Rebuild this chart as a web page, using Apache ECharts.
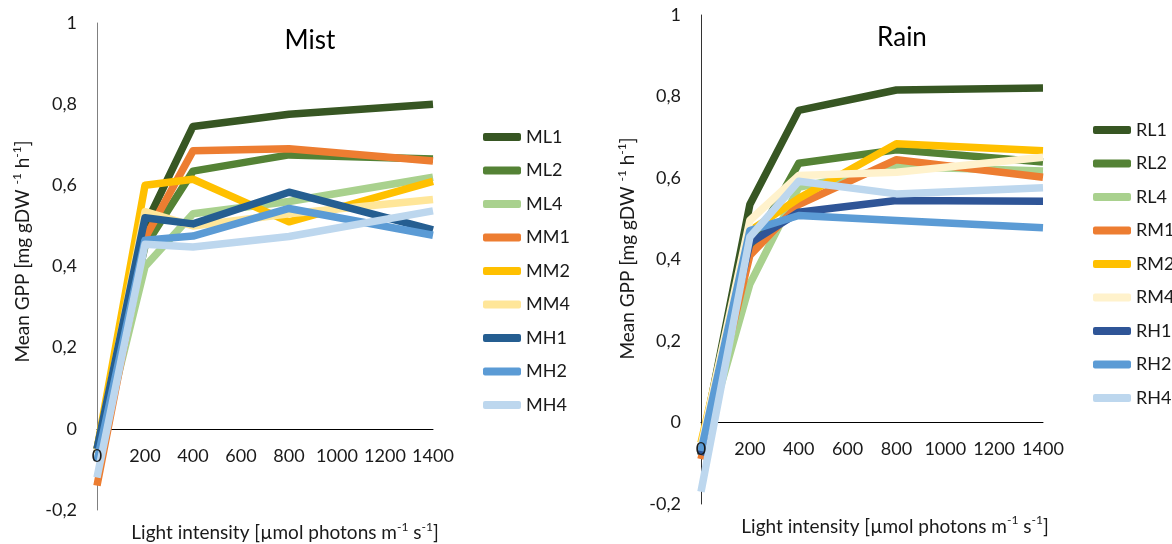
<!DOCTYPE html>
<html>
<head>
<meta charset="utf-8">
<script src="https://cdn.jsdelivr.net/npm/echarts@6/dist/echarts.min.js"></script>
<style>
  html, body { margin: 0; background: #fff; }
  #chart { width: 1172px; height: 544px; }
</style>
</head>
<body>
<div id="chart"></div>
<script>
  // light levels (µmol photons) where GPP was measured
  const lightLevels = [0, 200, 400, 800, 1400];

  const mistNames = ['ML1', 'ML2', 'ML4', 'MM1', 'MM2', 'MM4', 'MH1', 'MH2', 'MH4'];
  const ML1 = [-0.05, 0.50, 0.745, 0.775, 0.80];
  const ML2 = [-0.06, 0.45, 0.635, 0.675, 0.665];
  const ML4 = [-0.08, 0.40, 0.53, 0.56, 0.62];
  const MM1 = [-0.14, 0.47, 0.685, 0.69, 0.66];
  const MM2 = [-0.05, 0.60, 0.615, 0.51, 0.61];
  const MM4 = [-0.06, 0.535, 0.50, 0.53, 0.565];
  const MH1 = [-0.05, 0.52, 0.505, 0.583, 0.49];
  const MH2 = [-0.08, 0.465, 0.475, 0.543, 0.477];
  const MH4 = [-0.12, 0.455, 0.448, 0.474, 0.537];

  const rainNames = ['RL1', 'RL2', 'RL4', 'RM1', 'RM2', 'RM4', 'RH1', 'RH2', 'RH4'];
  const RL1 = [-0.07, 0.535, 0.766, 0.816, 0.821];
  const RL2 = [-0.08, 0.42, 0.636, 0.669, 0.639];
  const RL4 = [-0.08, 0.34, 0.577, 0.628, 0.617];
  const RM1 = [-0.09, 0.41, 0.535, 0.645, 0.602];
  const RM2 = [-0.05, 0.47, 0.55, 0.684, 0.667];
  const RM4 = [-0.06, 0.496, 0.606, 0.614, 0.651];
  const RH1 = [-0.08, 0.44, 0.516, 0.545, 0.543];
  const RH2 = [-0.07, 0.471, 0.508, 0.496, 0.478];
  const RH4 = [-0.17, 0.455, 0.592, 0.561, 0.576];

  const mistColors = ['#375623', '#548235', '#A9D18E', '#ED7D31', '#FFC000', '#FFE699', '#255E91', '#5B9BD5', '#BDD7EE'];
  const rainColors = ['#375623', '#548235', '#A9D18E', '#ED7D31', '#FFC000', '#FFF2CC', '#2F5597', '#5B9BD5', '#BDD7EE'];

  const font = 'Lato, "Open Sans", sans-serif';
  const txt = '#1a1a1a';

  function makeSeries(names, values, colors, idx) {
    return names.map((name, i) => ({
      name: name,
      type: 'line',
      xAxisIndex: idx,
      yAxisIndex: idx,
      symbol: 'none',
      data: lightLevels.map((x, j) => [x, values[i][j]]),
      lineStyle: { width: 7.5, color: colors[i], join: 'round' },
      itemStyle: { color: colors[i] },
      z: 2
    }));
  }

  const rich = {
    a: { fontSize: 19, fontFamily: font, color: txt },
    s: { fontSize: 12, fontFamily: font, color: txt, verticalAlign: 'top', lineHeight: 24 }
  };

  // plot axis: only its line, sitting on y = 0
  function zeroAxis(grid) {
    return {
      type: 'value', gridIndex: grid, min: 0, max: 1400, interval: 200,
      axisLine: { onZero: true, lineStyle: { color: '#000', width: 1 } },
      axisTick: { show: false },
      axisLabel: { show: false },
      splitLine: { show: false }
    };
  }

  // labels + title live on a second grid whose bottom is the zero line
  function labelAxis(grid, shift) {
    return {
      type: 'value', gridIndex: grid, min: 0, max: 1400, interval: 200,
      z: 3,
      axisLine: { show: false, onZero: false },
      axisTick: { show: false },
      splitLine: { show: false },
      axisLabel: { fontSize: 18, fontFamily: font, color: txt, margin: 18, formatter: v => String(v) },
      name: '{a|Light intensity [µmol photons m}{s|-1}{a| s}{s|-1}{a|]}',
      nameLocation: 'middle',
      nameGap: 92,
      nameTextStyle: { rich: rich, padding: [0, 0, 0, shift] }
    };
  }

  function yAxis(grid, gap, shift, lineColor) {
    return {
      type: 'value', gridIndex: grid, min: -0.2, max: 1, interval: 0.2,
      axisLine: { show: true, onZero: false, lineStyle: { color: lineColor, width: 1 } },
      axisTick: { show: false },
      splitLine: { show: false },
      axisLabel: {
        fontSize: 18, fontFamily: font, color: txt, margin: 20,
        formatter: v => String(Math.round(v * 10) / 10).replace('.', ',')
      },
      name: '{a|Mean GPP [mg gDW }{s|-1}{a| h}{s|-1}{a|]}',
      nameLocation: 'middle',
      nameGap: gap,
      nameTextStyle: { rich: rich, padding: [0, 0, 0, shift] }
    };
  }

  function hiddenY(grid) {
    return { type: 'value', gridIndex: grid, min: 0, max: 1, show: false };
  }

  function legend(names, left, top) {
    return {
      data: names,
      orient: 'vertical',
      left: left, top: top,
      icon: 'roundRect',
      itemWidth: 38, itemHeight: 8,
      itemGap: 15.5,
      textStyle: { fontSize: 18, fontFamily: font, color: txt, lineHeight: 18 }
    };
  }

  const g = { outerBoundsMode: 'none', containLabel: false };

  const chart = echarts.init(document.getElementById('chart'));
  chart.setOption({
    animation: false,
    title: [
      { text: 'Mist', left: 305, top: 23, textAlign: 'center',
        textStyle: { fontSize: 26, fontWeight: 'normal', fontFamily: font, color: '#000' } },
      { text: 'Rain', left: 897, top: 20, textAlign: 'center',
        textStyle: { fontSize: 26, fontWeight: 'normal', fontFamily: font, color: '#000' } }
    ],
    grid: [
      Object.assign({ left: 97, top: 23, width: 336, height: 487 }, g),
      Object.assign({ left: 701, top: 15, width: 342, height: 489 }, g),
      Object.assign({ left: 97, top: 23, width: 336, height: 487 * 5 / 6 }, g),
      Object.assign({ left: 701, top: 15, width: 342, height: 489 * 5 / 6 }, g)
    ],
    xAxis: [zeroAxis(0), zeroAxis(1), labelAxis(2, 40), labelAxis(3, 46)],
    yAxis: [yAxis(0, 62, 30, '#808080'), yAxis(1, 61, 22, '#333'), hiddenY(2), hiddenY(3)],
    legend: [legend(mistNames, 478, 123), legend(rainNames, 1088, 116)],
    series: makeSeries(mistNames, [ML1, ML2, ML4, MM1, MM2, MM4, MH1, MH2, MH4], mistColors, 0)
      .concat(makeSeries(rainNames, [RL1, RL2, RL4, RM1, RM2, RM4, RH1, RH2, RH4], rainColors, 1))
  });
</script>
</body>
</html>
